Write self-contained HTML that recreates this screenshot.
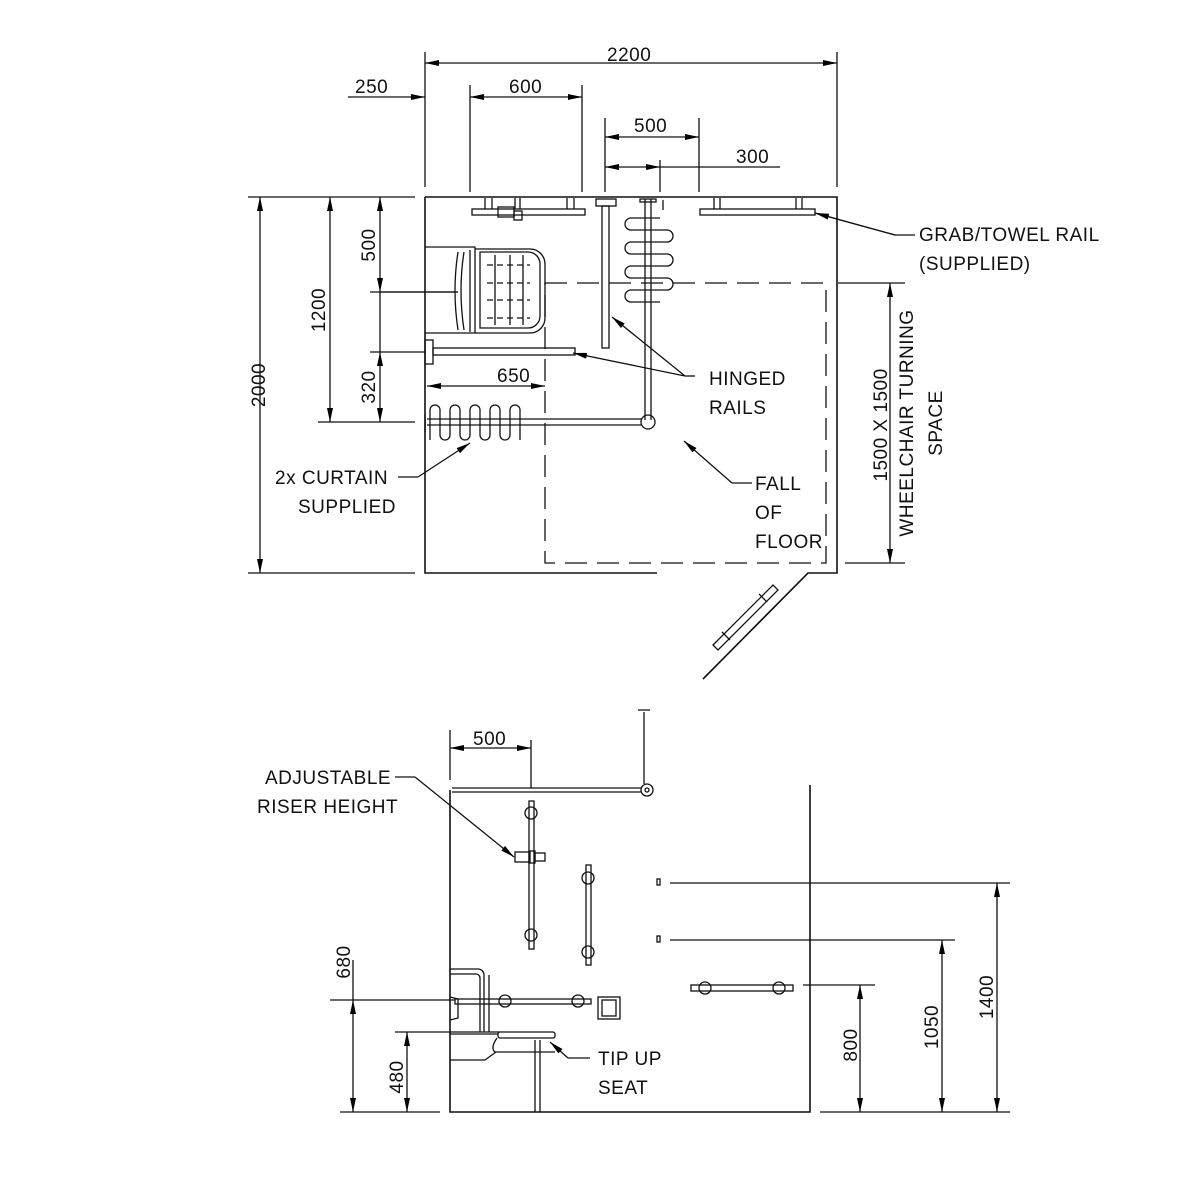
<!DOCTYPE html>
<html><head><meta charset="utf-8"><style>
html,body{margin:0;padding:0;background:#fff}
svg{display:block}
text{font-family:"Liberation Sans",sans-serif;font-size:19px;fill:#111;letter-spacing:0.5px}
</style></head><body>
<svg width="1200" height="1200" viewBox="0 0 1200 1200" xmlns="http://www.w3.org/2000/svg">
<defs>
<marker id="a" viewBox="0 0 14 6" refX="14" refY="3" markerWidth="14" markerHeight="6" markerUnits="userSpaceOnUse" orient="auto-start-reverse"><path d="M0,0 L14,3 L0,6 Z" fill="#000"/></marker>
</defs>
<g stroke="#111" stroke-width="1.3" fill="none">
<!-- ROOM PLAN -->
<path d="M425,197 H837 V573 H808 L703,679" stroke-width="1.6"/>
<path d="M425,197 V573 H657" stroke-width="1.6"/>
<rect x="545" y="283" width="281" height="280" stroke-dasharray="22,10"/>
<!-- door leaf -->
<path d="M713,645 L773,585 L778,590 L718,650 Z"/>
<path d="M730,640 L722,632 M767,602 L759,594"/>
<!-- top dims -->
<path d="M425,52 V187 M837,52 V187 M470,85 V192 M582,85 V192 M605,118 V192 M699,118 V192 M660,160 V192"/>
<line x1="425" y1="63" x2="837" y2="63" marker-start="url(#a)" marker-end="url(#a)"/>
<line x1="348" y1="97" x2="425" y2="97" marker-end="url(#a)"/>
<line x1="470" y1="97" x2="582" y2="97" marker-start="url(#a)" marker-end="url(#a)"/>
<line x1="605" y1="137" x2="699" y2="137" marker-start="url(#a)" marker-end="url(#a)"/>
<line x1="605" y1="167" x2="660" y2="167" marker-start="url(#a)" marker-end="url(#a)"/>
<line x1="660" y1="167" x2="780" y2="167"/>
<!-- left dims -->
<path d="M248,197 H415 M248,573 H415 M318,422 H415 M370,292 H458 M370,352 H425"/>
<line x1="260" y1="197" x2="260" y2="573" marker-start="url(#a)" marker-end="url(#a)"/>
<line x1="330" y1="197" x2="330" y2="422" marker-start="url(#a)" marker-end="url(#a)"/>
<line x1="380" y1="197" x2="380" y2="292" marker-start="url(#a)" marker-end="url(#a)"/>
<line x1="380" y1="352" x2="380" y2="422" marker-start="url(#a)" marker-end="url(#a)"/>
<line x1="380" y1="292" x2="380" y2="352"/>
<line x1="427" y1="386" x2="545" y2="386" marker-start="url(#a)" marker-end="url(#a)"/>
<!-- right dims -->
<path d="M838,283 H905 M845,563 H905"/>
<line x1="890" y1="283" x2="890" y2="563" marker-start="url(#a)" marker-end="url(#a)"/>
<!-- top rail -->
<rect x="472" y="209" width="113" height="6"/>
<path d="M485,198 V209 M492,198 V209 M515,198 V209 M520,198 V209 M567,198 V209 M574,198 V209"/>
<rect x="498" y="207" width="16" height="10"/>
<rect x="514" y="211" width="8" height="9"/>
<rect x="700" y="209" width="115" height="6"/>
<path d="M714,198 V209 M720,198 V209 M796,198 V209 M802,198 V209"/>
<!-- hinged vertical rail -->
<rect x="596" y="199" width="20" height="7"/>
<rect x="602" y="206" width="7" height="142"/>
<!-- shower rail -->
<path d="M645,199 V420 M651,199 V420"/>
<rect x="640" y="199" width="16" height="3"/>
<circle cx="648" cy="422" r="7"/>
<path d="M663,200 V210"/>
<!-- curtain loops vertical -->
<path d="M660,218 H631 a5,5 0 0 0 0,12 H667 a5,5 0 0 1 0,12 H631 a5,5 0 0 0 0,12 H667 a5,5 0 0 1 0,12 H631 a5,5 0 0 0 0,12 H667 a5,5 0 0 1 0,12 H631 a5,5 0 0 0 0,12 H660"/>
<!-- curtain rail horizontal -->
<path d="M427,419 H641 M427,425 H641"/>
<path d="M425,414 V432"/>
<path d="M430,440 V410 a5,5 0 0 1 10,0 V435 a5,5 0 0 0 10,0 V410 a5,5 0 0 1 10,0 V435 a5,5 0 0 0 10,0 V410 a5,5 0 0 1 10,0 V435 a5,5 0 0 0 10,0 V410 a5,5 0 0 1 10,0 V435 a5,5 0 0 0 10,0 V410 a5,5 0 0 1 10,0 V440"/>
<!-- seat plan -->
<path d="M425,247 H475 V333 H425"/>
<path d="M475,249 H530 a15,15 0 0 1 15,15 V318 a15,15 0 0 1 -15,15 H475"/>
<path d="M480,252 H528 a12,12 0 0 1 12,12 V316 a12,12 0 0 1 -12,12 H480 Z"/>
<path d="M458,252 Q452,290 458,330 M464,252 Q458,290 464,330 M470,250 V332"/>
<path d="M495,255 V325 M510,255 V325 M523,255 V325"/>
<path d="M487,265 H530 M487,283 H530 M487,300 H530 M487,318 H530" stroke-dasharray="6,4"/>
<path d="M380,292 H458"/>
<!-- hinged horizontal rail -->
<rect x="425" y="340" width="8" height="24"/>
<rect x="433" y="348" width="142" height="7"/>
<!-- leaders plan -->
<path d="M915,235 H895 L815,213" />
<line x1="895" y1="235" x2="815" y2="213" marker-end="url(#a)"/>
<line x1="685" y1="376" x2="612" y2="317" marker-end="url(#a)"/>
<line x1="685" y1="376" x2="573" y2="353" marker-end="url(#a)"/>
<path d="M685,376 H695"/>
<path d="M752,483 H732"/>
<line x1="732" y1="483" x2="684" y2="441" marker-end="url(#a)"/>
<path d="M398,477 H418"/>
<line x1="418" y1="477" x2="470" y2="443" marker-end="url(#a)"/>

<!-- ELEVATION -->
<path d="M450,790 V1112 H810 V785" stroke-width="1.6"/>
<path d="M450,730 V780"/>
<path d="M644,712 V784 M638,710 H650 M531,740 V788"/>
<line x1="450" y1="748" x2="531" y2="748" marker-start="url(#a)" marker-end="url(#a)"/>
<path d="M452,788 H641 M452,792 H641"/>
<circle cx="647" cy="790" r="6"/>
<circle cx="647" cy="790" r="2"/>
<!-- riser -->
<rect x="529" y="801" width="5" height="148"/>
<circle cx="531" cy="813" r="6"/><circle cx="531" cy="935" r="6"/>
<rect x="515" y="852" width="15" height="10"/>
<rect x="529" y="851" width="6" height="12"/>
<rect x="535" y="853" width="10" height="8"/>
<rect x="586" y="865" width="5" height="100"/>
<circle cx="588" cy="878" r="6"/><circle cx="588" cy="952" r="6"/>
<!-- controls -->
<rect x="657" y="879" width="3" height="6"/>
<rect x="657" y="936" width="3" height="6"/>
<path d="M670,883 H1010 M670,940 H955 M803,985 H875 M820,1112 H1010"/>
<rect x="691" y="985" width="102" height="6"/>
<circle cx="705" cy="988" r="6"/><circle cx="779" cy="988" r="6"/>
<line x1="997" y1="883" x2="997" y2="1112" marker-start="url(#a)" marker-end="url(#a)"/>
<line x1="942" y1="940" x2="942" y2="1112" marker-start="url(#a)" marker-end="url(#a)"/>
<line x1="860" y1="985" x2="860" y2="1112" marker-start="url(#a)" marker-end="url(#a)"/>
<!-- seat/rails elevation -->
<path d="M450,969 H478 a6,6 0 0 1 6,6 V1032 M450,974 H476 a4,4 0 0 1 4,4 V1032 M489,975 V1032"/>
<rect x="455" y="999" width="136" height="5"/>
<path d="M450,997 L458,999 V1018 L450,1020"/>
<circle cx="505" cy="1001" r="6"/><circle cx="578" cy="1001" r="6"/>
<rect x="598" y="997" width="22" height="22"/>
<rect x="602" y="1000" width="14" height="16"/>
<rect x="498" y="1032" width="57" height="6" rx="2"/>
<path d="M450,1034 H498 M497,1038 Q490,1048 495,1052 H555 M450,1060 H485 L496,1052"/>
<path d="M535,1040 V1112 M540,1040 V1112"/>
<!-- left dims elevation -->
<path d="M330,1000 H455 M395,1032 H500 M340,1112 H440"/>
<line x1="353" y1="1000" x2="353" y2="1112" marker-start="url(#a)" marker-end="url(#a)"/>
<line x1="353" y1="960" x2="353" y2="1000"/>
<line x1="407" y1="1032" x2="407" y2="1112" marker-start="url(#a)" marker-end="url(#a)"/>
<!-- leaders elevation -->
<path d="M395,777 H415"/>
<line x1="415" y1="777" x2="514" y2="857" marker-end="url(#a)"/>
<path d="M590,1058 H568"/>
<line x1="568" y1="1058" x2="550" y2="1042" marker-end="url(#a)"/>
</g>

<g>
<text x="607" y="61">2200</text>
<text x="355" y="93">250</text>
<text x="509" y="93">600</text>
<text x="634" y="132">500</text>
<text x="736" y="163">300</text>
<text x="497" y="382">650</text>
<text transform="translate(265,385) rotate(-90)" text-anchor="middle">2000</text>
<text transform="translate(325,310) rotate(-90)" text-anchor="middle">1200</text>
<text transform="translate(375,245) rotate(-90)" text-anchor="middle">500</text>
<text transform="translate(375,387) rotate(-90)" text-anchor="middle">320</text>
<text transform="translate(887,425) rotate(-90)" text-anchor="middle">1500 X 1500</text>
<text transform="translate(913,423) rotate(-90)" text-anchor="middle">WHEELCHAIR TURNING</text>
<text transform="translate(942,423) rotate(-90)" text-anchor="middle">SPACE</text>
<text x="919" y="241">GRAB/TOWEL RAIL</text>
<text x="919" y="270">(SUPPLIED)</text>
<text x="709" y="385">HINGED</text>
<text x="709" y="414">RAILS</text>
<text x="755" y="490">FALL</text>
<text x="755" y="519">OF</text>
<text x="755" y="548">FLOOR</text>
<text x="275" y="484">2x CURTAIN</text>
<text x="298" y="513">SUPPLIED</text>
<text x="473" y="745">500</text>
<text x="265" y="784">ADJUSTABLE</text>
<text x="257" y="813">RISER HEIGHT</text>
<text x="598" y="1065">TIP UP</text>
<text x="598" y="1094">SEAT</text>
<text transform="translate(350,962) rotate(-90)" text-anchor="middle">680</text>
<text transform="translate(403,1077) rotate(-90)" text-anchor="middle">480</text>
<text transform="translate(857,1045) rotate(-90)" text-anchor="middle">800</text>
<text transform="translate(938,1027) rotate(-90)" text-anchor="middle">1050</text>
<text transform="translate(993,997) rotate(-90)" text-anchor="middle">1400</text>
</g>
</svg>
</body></html>
